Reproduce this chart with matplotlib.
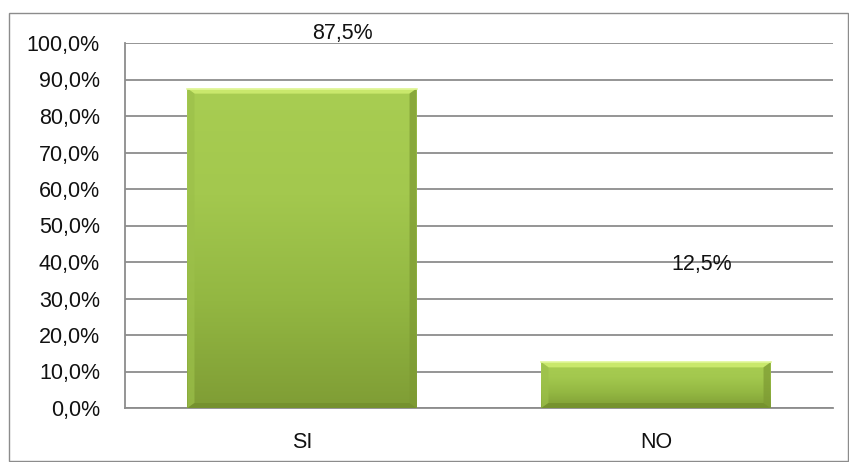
import numpy as np
import matplotlib.pyplot as plt
from matplotlib.colors import LinearSegmentedColormap
from matplotlib.patches import Rectangle, Polygon

plt.rcParams['font.family'] = ['Liberation Sans', 'DejaVu Sans']

categorias = ["SI", "NO"]
porcentajes = [87.5, 12.5]
etiquetas = ["87,5%", "12,5%"]
ticks_y = [0, 10, 20, 30, 40, 50, 60, 70, 80, 90, 100]

fig = plt.figure(figsize=(8.49, 4.62), dpi=100)
ax = fig.add_axes([125 / 849, 1 - 408 / 462, (833 - 125) / 849, (408 - 43) / 462])

# marco exterior del gráfico
fig.patches.append(Rectangle((9 / 849, 0.002), 1 - 9 / 849 - 0.001, 1 - 13 / 462 - 0.002,
                             transform=fig.transFigure, fill=False,
                             edgecolor="#8c8c8c", linewidth=1.0))

ax.set_xlim(-0.5, 1.5)
ax.set_ylim(0, 100)

# tamaño de un píxel en unidades de datos
px_x = 2.0 / 708
px_y = 100.0 / 365

x = np.arange(len(categorias))
ancho = 0.647
barras = ax.bar(x, porcentajes, width=ancho, color="#a2c64c", zorder=3)

# degradado verde en cada barra
verde = LinearSegmentedColormap.from_list(
    "verde", ["#7f9d35", "#93b742", "#a3c84e", "#a8cd52"])
grad = np.linspace(0, 1, 256).reshape(-1, 1)
for b in barras:
    x0, y0 = b.get_x(), b.get_y()
    w, h = b.get_width(), b.get_height()
    x1, y1 = x0 + w, y0 + h
    im = ax.imshow(grad, cmap=verde, origin="lower", aspect="auto",
                   extent=(x0, x1, y0, y1), zorder=4)
    im.set_clip_path(b)
    bx = 7 * px_x
    by = 5 * px_y
    # bisel: arriba claro, lados y abajo más oscuros
    ax.add_patch(Polygon([(x0, y1), (x1, y1), (x1 - bx, y1 - by), (x0 + bx, y1 - by)],
                         facecolor="#c9e86c", edgecolor="none", zorder=5))
    ax.add_patch(Polygon([(x0, y1), (x0 + bx, y1 - by), (x0 + bx, y0 + by), (x0, y0)],
                         facecolor="#9cc04a", alpha=0.7, edgecolor="none", zorder=5))
    ax.add_patch(Polygon([(x1, y1), (x1 - bx, y1 - by), (x1 - bx, y0 + by), (x1, y0)],
                         facecolor="#7d9a33", alpha=0.7, edgecolor="none", zorder=5))
    ax.add_patch(Polygon([(x0, y0), (x0 + bx, y0 + by), (x1 - bx, y0 + by), (x1, y0)],
                         facecolor="#738f2d", alpha=0.8, edgecolor="none", zorder=5))
    # brillo fino en el borde superior
    ax.plot([x0, x1], [y1, y1], color="#e2f79a", linewidth=1.2, zorder=6)

# etiquetas de datos
pos_etiquetas = [(0.115, 102.5), (0.13, 39.3)]
for (dx, ty), txt, xi in zip(pos_etiquetas, etiquetas, x):
    ax.text(xi + dx, ty, txt, ha="center", va="center", fontsize=15.5,
            color="#111111", clip_on=False, zorder=7)

ax.set_yticks(ticks_y)
ax.set_yticklabels([f"{t:.1f}%".replace(".", ",") for t in ticks_y])
ax.set_xticks(x)
ax.set_xticklabels(categorias)
ax.tick_params(axis="y", length=0, pad=18, labelsize=15.5, labelcolor="#111111")
ax.tick_params(axis="x", length=0, pad=17, labelsize=15.5, labelcolor="#111111")
ax.yaxis.grid(True, color="#8c8c8c", linewidth=1.3, zorder=0)
ax.set_axisbelow(True)
for lado_ax in ["top", "right"]:
    ax.spines[lado_ax].set_visible(False)
ax.spines["left"].set_color("#8c8c8c")
ax.spines["bottom"].set_color("#8c8c8c")
ax.spines["left"].set_linewidth(1.3)
ax.spines["bottom"].set_linewidth(1.3)

fig.savefig("out.png", dpi=100)
